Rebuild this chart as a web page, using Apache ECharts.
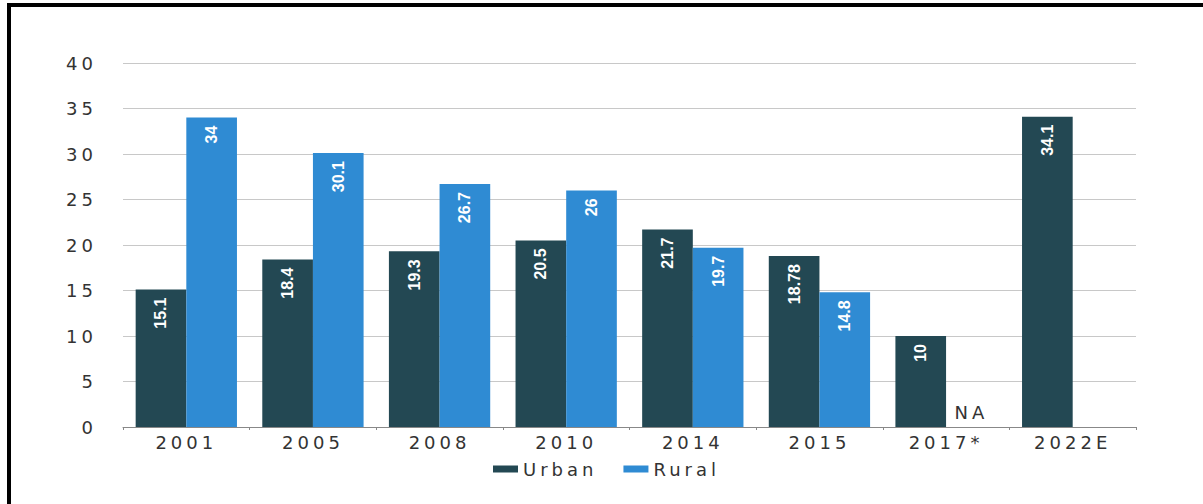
<!DOCTYPE html>
<html>
<head>
<meta charset="utf-8">
<script src="https://cdn.jsdelivr.net/npm/echarts@6/dist/echarts.min.js"></script>
<style>
  html, body { margin: 0; padding: 0; background: #fff; overflow: hidden; }
  #wrap { position: relative; width: 1203px; height: 504px; }
  #chart { position: absolute; left: 0; top: 0; width: 1203px; height: 504px; }
  .edge { position: absolute; background: #000; }
  /* the source text is set wide: spread the dark axis / legend text */
  #chart text[fill="#333333"] { letter-spacing: 4px; }
</style>
</head>
<body>
<div id="wrap">
  <div id="chart"></div>
  <div class="edge" style="left:7px; top:3px; width:1196px; height:4px;"></div>
  <div class="edge" style="left:7px; top:3px; width:4px; height:501px;"></div>
</div>
<script>
const years = ['2001', '2005', '2008', '2010', '2014', '2015', '2017*', '2022E']
const urban = [15.1, 18.4, 19.3, 20.5, 21.7, 18.78, 10, 34.1]
const rural = [34, 30.1, 26.7, 26, 19.7, 14.8, null, null]
const yTicks = [0, 5, 10, 15, 20, 25, 30, 35, 40]

const labelFont = "'Liberation Sans Narrow', 'Arial Narrow', 'Liberation Sans', sans-serif"
const axisFont = "'DejaVu Sans', Arial, sans-serif"
const textColor = '#333333'

const barLabel = {
  show: true,
  position: 'insideTop',
  rotate: 90,
  align: 'right',
  verticalAlign: 'middle',
  distance: 8,
  color: '#fff',
  fontFamily: labelFont,
  fontWeight: 'bold',
  fontSize: 16
}

// 2017 rural has no value: an empty bar carries the "NA" text
const ruralData = rural.map((v, i) => {
  if (v !== null) return v
  if (years[i] === '2017*') {
    return {
      value: 0,
      label: {
        show: true,
        position: 'top',
        rotate: 0,
        align: 'center',
        verticalAlign: 'bottom',
        distance: 6,
        color: textColor,
        fontWeight: 'normal',
        fontFamily: axisFont,
        fontSize: 18,
        formatter: 'NA'
      }
    }
  }
  return null
})

const chart = echarts.init(document.getElementById('chart'), null, { renderer: 'svg' })

chart.setOption({
  animation: false,
  backgroundColor: '#fff',
  grid: {
    left: 123,
    right: 67,
    top: 63,
    bottom: 77
  },
  legend: {
    data: ['Urban', 'Rural'],
    left: 488,
    top: 455,
    itemWidth: 25,
    itemHeight: 7,
    itemGap: 46,
    icon: 'rect',
    textStyle: { color: textColor, fontFamily: axisFont, fontSize: 18 }
  },
  xAxis: {
    type: 'category',
    data: years,
    axisLine: { lineStyle: { color: '#888' } },
    axisTick: { show: true, length: 3, lineStyle: { color: '#888' } },
    axisLabel: { color: textColor, fontFamily: axisFont, fontSize: 18, margin: 6 }
  },
  yAxis: {
    type: 'value',
    min: yTicks[0],
    max: yTicks[yTicks.length - 1],
    interval: 5,
    axisLine: { show: false },
    axisTick: { show: false },
    axisLabel: { color: textColor, fontFamily: axisFont, fontSize: 18, margin: 26 },
    splitLine: { lineStyle: { color: '#c8c8c8' } }
  },
  series: [
    {
      name: 'Urban',
      type: 'bar',
      data: urban,
      barGap: '0%',
      barCategoryGap: '20%',
      itemStyle: { color: '#234853' },
      label: barLabel
    },
    {
      name: 'Rural',
      type: 'bar',
      data: ruralData,
      barGap: '0%',
      barCategoryGap: '20%',
      itemStyle: { color: '#2f8bd3' },
      label: barLabel
    }
  ]
})
</script>
</body>
</html>
